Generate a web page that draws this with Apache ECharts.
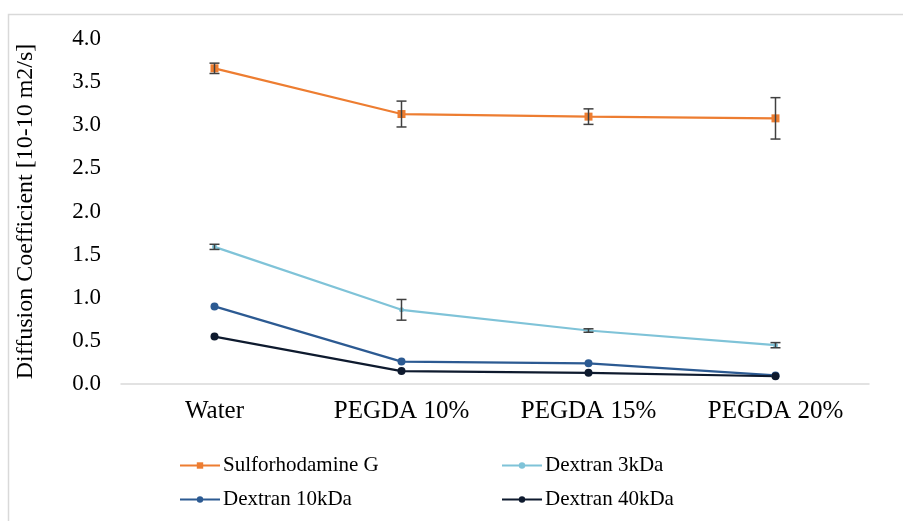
<!DOCTYPE html>
<html>
<head>
<meta charset="utf-8">
<script src="https://cdn.jsdelivr.net/npm/echarts@6/dist/echarts.min.js"></script>
<style>
  html, body { margin: 0; padding: 0; background: #fff; }
  #chart { width: 903px; height: 521px; }
</style>
</head>
<body>
<div id="chart"></div>
<script>
// Diffusion coefficients per medium, with standard deviations
const categories = ['Water', 'PEGDA 10%', 'PEGDA 15%', 'PEGDA 20%'];
const yTicks = [0, 0.5, 1.0, 1.5, 2.0, 2.5, 3.0, 3.5, 4.0];

const sulforhodamine = [3.66, 3.13, 3.10, 3.08];
const sulforhodamineErr = [0.06, 0.15, 0.09, 0.24];

const dextran3 = [1.59, 0.86, 0.62, 0.45];
const dextran3Err = [0.03, 0.12, 0.02, 0.03];

const dextran10 = [0.90, 0.26, 0.24, 0.10];
const dextran40 = [0.55, 0.15, 0.13, 0.09];

const FONT = 'Liberation Serif';

const chart = echarts.init(document.getElementById('chart'));

function errorSeries(values, errs) {
  return {
    type: 'custom',
    silent: true,
    z: 5,
    data: values.map((v, i) => [i, v - errs[i], v + errs[i]]),
    renderItem: function (params, api) {
      const lo = api.coord([api.value(0), api.value(1)]);
      const hi = api.coord([api.value(0), api.value(2)]);
      const half = 5;
      const style = { stroke: '#404040', lineWidth: 1.5 };
      return {
        type: 'group',
        children: [
          { type: 'line', shape: { x1: lo[0], y1: lo[1], x2: hi[0], y2: hi[1] }, style: style },
          { type: 'line', shape: { x1: lo[0] - half, y1: lo[1], x2: lo[0] + half, y2: lo[1] }, style: style },
          { type: 'line', shape: { x1: hi[0] - half, y1: hi[1], x2: hi[0] + half, y2: hi[1] }, style: style }
        ]
      };
    }
  };
}

const lineBase = { type: 'line', animation: false, z: 3 };
const legendText = { fontFamily: FONT, fontSize: 21, color: '#000', padding: [0, 0, 0, -2] };

chart.setOption({
  animation: false,
  backgroundColor: '#fff',
  graphic: [{
    type: 'rect',
    shape: { x: 8.5, y: 14.5, width: 1000, height: 1000 },
    style: { fill: 'none', stroke: '#d9d9d9', lineWidth: 1.5 },
    silent: true,
    z: -1
  }],
  grid: { left: 121, right: 34, top: 39, bottom: 137 },
  legend: [
    {
      left: 174, top: 450, orient: 'vertical', itemGap: 13,
      itemWidth: 40, itemHeight: 8,
      textStyle: legendText,
      data: ['Sulforhodamine G', 'Dextran 10kDa']
    },
    {
      left: 496, top: 450, orient: 'vertical', itemGap: 13,
      itemWidth: 40, itemHeight: 8,
      textStyle: legendText,
      data: ['Dextran 3kDa', 'Dextran 40kDa']
    }
  ],
  xAxis: {
    type: 'category',
    data: categories,
    boundaryGap: true,
    axisLine: { lineStyle: { color: '#d9d9d9', width: 1.5 } },
    axisTick: { show: false },
    axisLabel: { fontFamily: FONT, fontSize: 25, color: '#000', margin: 15 }
  },
  yAxis: {
    type: 'value',
    min: yTicks[0],
    max: yTicks[yTicks.length - 1],
    interval: 0.5,
    name: 'Diffusion Coefficient [10-10 m2/s]',
    nameLocation: 'middle',
    nameGap: 83,
    nameRotate: 90,
    nameTextStyle: { fontFamily: FONT, fontSize: 24, color: '#000' },
    axisLine: { show: false },
    axisTick: { show: false },
    splitLine: { show: false },
    axisLabel: {
      fontFamily: FONT, fontSize: 23, color: '#000', margin: 20,
      formatter: v => v.toFixed(1)
    }
  },
  series: [
    Object.assign({}, lineBase, {
      name: 'Sulforhodamine G',
      data: sulforhodamine,
      symbol: 'rect', symbolSize: 8,
      lineStyle: { color: '#ED7D31', width: 2.2 },
      itemStyle: { color: '#ED7D31' }
    }),
    Object.assign({}, lineBase, {
      name: 'Dextran 3kDa',
      data: dextran3,
      symbol: 'circle', symbolSize: 5,
      lineStyle: { color: '#7FC3D8', width: 2.2 },
      itemStyle: { color: '#7FC3D8' }
    }),
    Object.assign({}, lineBase, {
      name: 'Dextran 10kDa',
      data: dextran10,
      symbol: 'circle', symbolSize: 8,
      lineStyle: { color: '#2C5A92', width: 2.2 },
      itemStyle: { color: '#2C5A92' }
    }),
    Object.assign({}, lineBase, {
      name: 'Dextran 40kDa',
      data: dextran40,
      symbol: 'circle', symbolSize: 8,
      lineStyle: { color: '#0E1A2E', width: 2.2 },
      itemStyle: { color: '#0E1A2E' }
    }),
    errorSeries(sulforhodamine, sulforhodamineErr),
    errorSeries(dextran3, dextran3Err)
  ]
});
</script>
</body>
</html>
